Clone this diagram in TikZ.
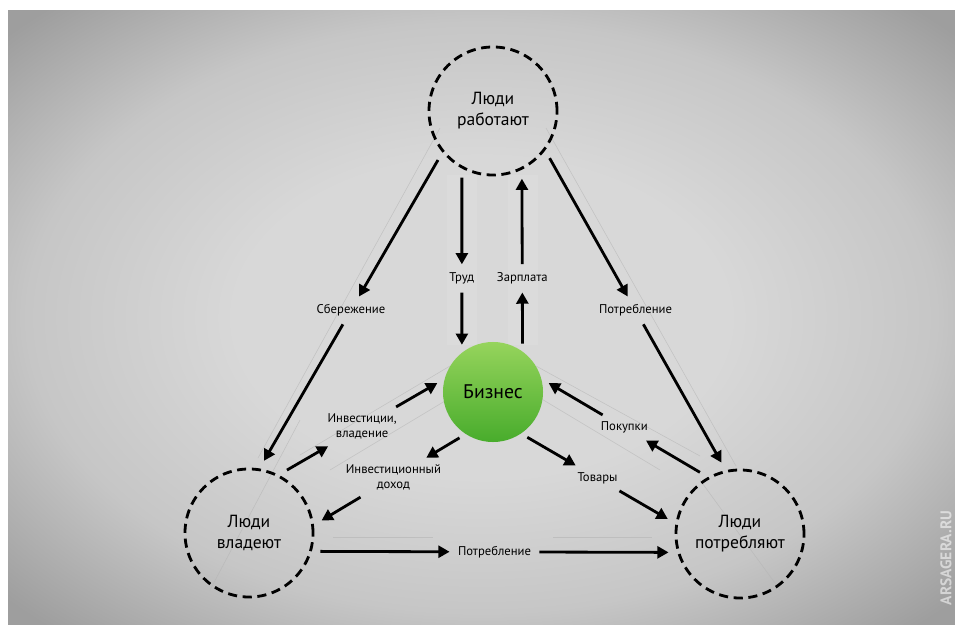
\documentclass[tikz,border=0pt]{standalone}
\usepackage{fontspec}
\setmainfont{PT Sans}
\usetikzlibrary{arrows.meta,calc}

\definecolor{bgin}{RGB}{216,216,216}
\definecolor{bgmid}{RGB}{198,198,198}
\definecolor{bgout}{RGB}{158,158,158}
\definecolor{biztop}{RGB}{150,212,92}
\definecolor{bizbot}{RGB}{72,172,44}
\definecolor{ray}{RGB}{180,180,180}

\pgfdeclareradialshading{backdrop}{\pgfpoint{0bp}{0bp}}{color(0bp)=(bgin); color(13bp)=(bgin); color(24bp)=(bgmid); color(34bp)=(bgout); color(50bp)=(bgout)}

\tikzset{
	people/.style={draw, line width=2pt, dash pattern=on 6.5pt off 4pt, circle, minimum size=3.2cm, outer sep=5pt, align=center, font=\fontsize{12.5}{15}\selectfont},
	business/.style={circle, minimum size=2.5cm, outer sep=3pt, top color=biztop, bottom color=bizbot, font=\fontsize{14}{16}\selectfont},
	tag/.style={align=center, inner sep=3pt, outer sep=1pt, font=\fontsize{9}{10.5}\selectfont},
	flow/.style={line width=2pt, -{Triangle[length=8pt,width=8.5pt]}, shorten <=2pt, shorten >=2pt},
}

\begin{document}
\begin{tikzpicture}[x=0.025cm, y=-0.025cm]
	\useasboundingbox (0,0) rectangle (955,625);
	\fill [white] (0,0) rectangle (955,625);
	\shade [shading=backdrop] (8,10) rectangle (955,625);
	
	% faint light bands and rays behind the flows
	\fill [white, opacity=0.08] (447,175) rectangle (477,345);
	\fill [white, opacity=0.08] (508,175) rectangle (538,345);
	\foreach \xa/\ya/\xb/\yb in {
		333/537/433/537,
		553/537/652/537,
		440/128/258/458,
		546/128/736/466,
		300/455/450/366,
		330/470/470/386,
		536/366/700/456,
		520/386/660/470,
		210/590/300/420,
		700/480/780/590
	}
	{
		\draw [ray, opacity=0.6] (\xa,\ya) -- (\xb,\yb);
	}
	
	\node [people] at (493,111) (work) {Люди\\работают};
	\node [people] at (249,533) (own) {Люди\\владеют};
	\node [people] at (740,534) (cons) {Люди\\потребляют};
	\node [business] at (493,392) (biz) {Бизнес};
	
	\node [tag] at ($(work.244)!0.6!(biz.125)$) (labour) {Труд};
	\node [tag] at ($(work.294)!0.6!(biz.57)$) (wage) {Зарплата};
	\node [tag] at ($(work.221)!0.5!(own.79)$) (save) {Сбережение};
	\node [tag] at ($(work.321)!0.5!(cons.104)$) (spend) {Потребление};
	\node [tag] at ($(own.60)!0.5!(biz.169)$) (invest) {Инвестиции,\\владение};
	\node [tag] at ($(biz.235)!0.48!(own.9)$) (income) {Инвестиционный\\доход};
	\node [tag] at ($(biz.306)!0.5!(cons.169)$) (goods) {Товары};
	\node [tag] at ($(cons.122)!0.5!(biz.11)$) (buy) {Покупки};
	\node [tag] at ($(own.345)!0.5!(cons.195)$) (use) {Потребление};
	
	\foreach \from/\to in {
		work.244/labour, labour/biz.125,
		biz.57/wage, wage/work.294,
		work.221/save, save/own.79,
		work.321/spend, spend/cons.104,
		own.60/invest, invest/biz.169,
		biz.235/income, income/own.9,
		biz.306/goods, goods/cons.169,
		cons.122/buy, buy/biz.11,
		own.345/use, use/cons.195
	}
	{
		\draw [flow] (\from) -- (\to);
	}
	
	\node [rotate=90, text=white, opacity=0.55, font=\bfseries\fontsize{11}{12}\selectfont] at (946,558) (mark) {ARSAGERA.RU};
\end{tikzpicture}
\end{document}
